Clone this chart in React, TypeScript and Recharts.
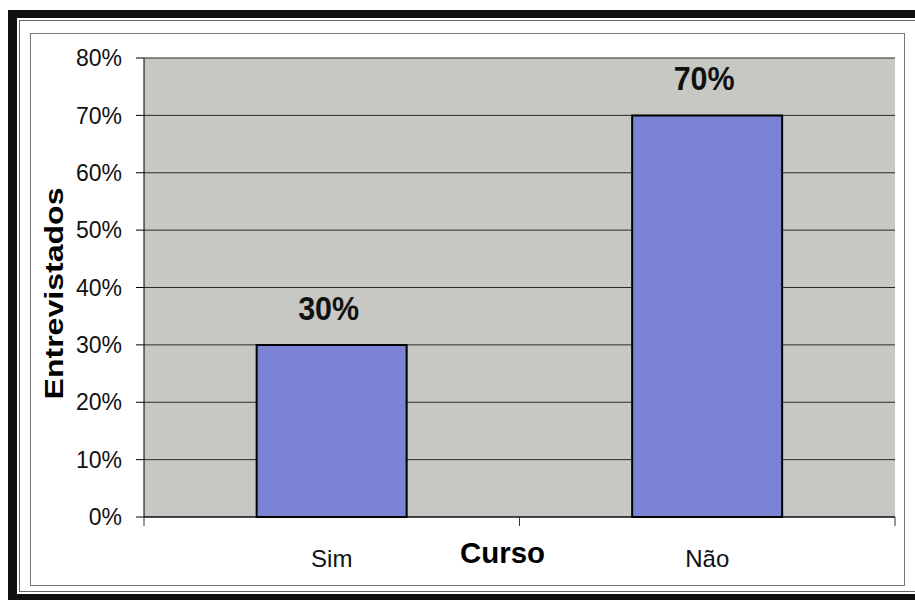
import React from 'react';
import {
  BarChart,
  Bar,
  XAxis,
  YAxis,
  CartesianGrid,
  LabelList,
} from 'recharts';

// Survey answers: share of interviewees per answer
const categories = ['Sim', 'Não'];
const entrevistados = [30, 70];
const yTicks = [0, 10, 20, 30, 40, 50, 60, 70, 80];

const data = categories.map((c, i) => ({ curso: c, valor: entrevistados[i] }));

const FONT = '"Liberation Sans", Arial, Helvetica, sans-serif';

// Category label at the band centre, tick marks at the band edges
const CategoryTick = (props: any) => {
  const { x, y, payload } = props;
  const half = typeof payload.offset === 'number' ? payload.offset : 0;
  return (
    <g>
      {half > 0 && (
        <>
          <line x1={x - half} y1={y} x2={x - half} y2={y + 9} stroke="#333" strokeWidth={1} />
          <line x1={x + half} y1={y} x2={x + half} y2={y + 9} stroke="#333" strokeWidth={1} />
        </>
      )}
      <text x={x} y={y + 50} textAnchor="middle" fontSize={24} fontFamily={FONT} fill="#111">
        {payload.value}
      </text>
    </g>
  );
};

const YTitle = (props: any) => {
  const vb = props.viewBox;
  const cx = 63;
  const cy = vb.y + vb.height / 2 + 6;
  return (
    <text
      x={cx}
      y={cy}
      transform={`rotate(-90 ${cx} ${cy})`}
      textAnchor="middle"
      fontSize={26}
      fontWeight="bold"
      fontFamily={FONT}
      fill="#000"
      textLength={212}
      lengthAdjust="spacingAndGlyphs"
    >
      Entrevistados
    </text>
  );
};

const XTitle = (props: any) => {
  const vb = props.viewBox;
  return (
    <text
      x={vb.x + vb.width / 2 - 17}
      y={vb.y + 46}
      textAnchor="middle"
      fontSize={30}
      fontWeight="bold"
      fontFamily={FONT}
      fill="#000"
      textLength={85}
      lengthAdjust="spacingAndGlyphs"
    >
      Curso
    </text>
  );
};

const ValueLabel = (props: any) => {
  const { x, y, width, value } = props;
  return (
    <text
      x={x + width / 2 - 3}
      y={y - 25}
      textAnchor="middle"
      fontSize={34}
      fontWeight="bold"
      fontFamily={FONT}
      fill="#111"
      textLength={61}
      lengthAdjust="spacingAndGlyphs"
    >
      {`${value}%`}
    </text>
  );
};

export default function App() {
  return (
    <div
      style={{
        position: 'absolute',
        left: 0,
        top: 0,
        width: 915,
        height: 600,
        overflow: 'hidden',
        background: '#fff',
      }}
    >
      {/* outer heavy frame */}
      <div
        style={{
          position: 'absolute',
          left: 8,
          top: 10,
          width: 1000,
          height: 590,
          borderTop: '8px solid #111',
          borderLeft: '9px solid #111',
          borderBottom: '6px solid #111',
          boxSizing: 'border-box',
        }}
      />
      {/* thin rule inside the heavy frame */}
      <div
        style={{
          position: 'absolute',
          left: 19,
          top: 20,
          width: 1000,
          height: 572,
          border: '1px solid #666',
          boxSizing: 'border-box',
        }}
      />
      {/* chart area box */}
      <div
        style={{
          position: 'absolute',
          left: 30,
          top: 33,
          width: 875,
          height: 553,
          border: '1px solid #777',
          boxSizing: 'border-box',
        }}
      />
      <div style={{ position: 'absolute', left: 0, top: 0 }}>
        <BarChart
          width={915}
          height={600}
          data={data}
          margin={{ top: 58, right: 20, left: 0, bottom: 43 }}
          barCategoryGap="30%"
        >
          <CartesianGrid
            vertical={false}
            stroke="#2a2a2a"
            strokeOpacity={1}
            fill="#c7c8c4"
            fillOpacity={1}
          />
          <XAxis
            dataKey="curso"
            tickLine={false}
            tickSize={0}
            tickMargin={0}
            axisLine={{ stroke: '#000', strokeWidth: 1 }}
            tick={<CategoryTick />}
            height={40}
            label={<XTitle />}
          />
          <YAxis
            domain={[0, 80]}
            ticks={yTicks}
            interval={0}
            width={144}
            tickSize={8}
            tickMargin={14}
            tickFormatter={(v: number) => `${v}%`}
            tick={{ fontSize: 23, fill: '#111', fontFamily: FONT }}
            tickLine={{ stroke: '#000' }}
            axisLine={{ stroke: '#000' }}
            label={<YTitle />}
          />
          <YAxis
            yAxisId="right"
            orientation="right"
            domain={[0, 80]}
            width={0}
            tick={false}
            tickLine={false}
            axisLine={{ stroke: '#888' }}
          />
          <Bar
            dataKey="valor"
            fill="#7c82d4"
            stroke="#000"
            strokeWidth={2}
            isAnimationActive={false}
          >
            <LabelList dataKey="valor" content={<ValueLabel />} />
          </Bar>
        </BarChart>
      </div>
    </div>
  );
}
